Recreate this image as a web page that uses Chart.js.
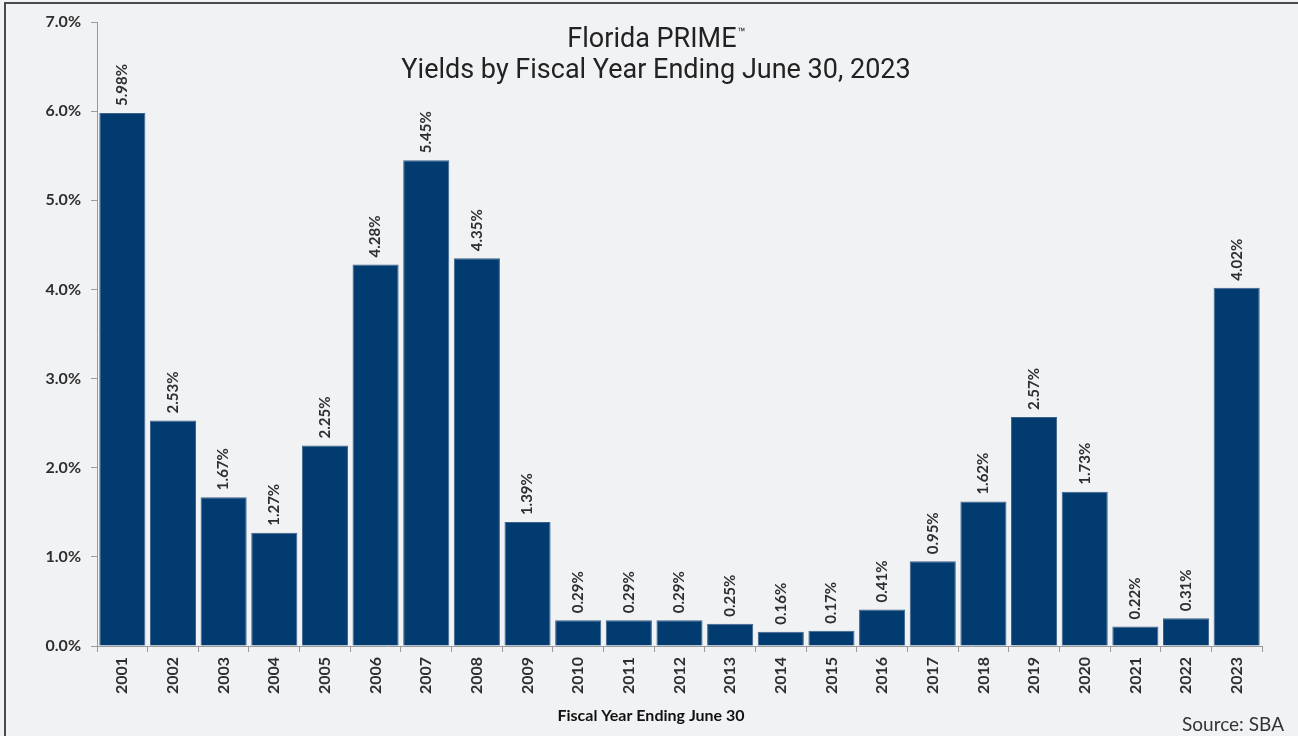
<!DOCTYPE html>
<html>
<head>
<meta charset="utf-8">
<script src="https://cdn.jsdelivr.net/npm/chart.js@4"></script>
<style>
  body { margin: 0; background: #f1f2f4; }
  canvas { display: block; }
</style>
</head>
<body>
<canvas id="yields" width="1298" height="736"></canvas>
<script>
// données
const years = ['2001', '2002', '2003', '2004', '2005', '2006', '2007', '2008', '2009', '2010', '2011', '2012',
    '2013', '2014', '2015', '2016', '2017', '2018', '2019', '2020', '2021', '2022', '2023'];
const yields = [5.98, 2.53, 1.67, 1.27, 2.25, 4.28, 5.45, 4.35, 1.39, 0.29, 0.29, 0.29,
    0.25, 0.16, 0.17, 0.41, 0.95, 1.62, 2.57, 1.73, 0.22, 0.31, 4.02];
const titleLines = ['Florida PRIME', 'Yields by Fiscal Year Ending June 30, 2023'];
const xTitle = 'Fiscal Year Ending June 30';
const sourceNote = 'Source: SBA';

const boldFont = 'Lato';

// fond, cadre, titres et étiquettes
const decor = {
    id: 'decor',
    beforeDraw(chart) {
        const c = chart.ctx;
        c.save();
        c.fillStyle = '#f1f2f4';
        c.fillRect(0, 0, chart.width, chart.height);
        c.strokeStyle = '#4a4a4a';
        c.lineWidth = 2;
        c.beginPath();
        c.moveTo(5, chart.height);
        c.lineTo(5, 3);
        c.lineTo(chart.width, 3);
        c.stroke();
        c.restore();
    },
    afterDatasetsDraw(chart) {
        const c = chart.ctx;
        const meta = chart.getDatasetMeta(0);
        c.save();
        c.fillStyle = '#2e2e2e';
        c.font = 'bold 15px ' + boldFont;
        c.textAlign = 'left';
        c.textBaseline = 'middle';
        meta.data.forEach((bar, i) => {
            c.save();
            c.translate(bar.x, bar.y - 7);
            c.rotate(-Math.PI / 2);
            c.fillText(yields[i].toFixed(2) + '%', 0, 0);
            c.restore();
        });

        // titre
        c.fillStyle = '#222222';
        c.textBaseline = 'alphabetic';
        c.font = '27px Roboto';
        const w1 = c.measureText(titleLines[0]).width;
        c.font = '13px Roboto';
        const wtm = c.measureText('\u2122').width;
        const x0 = 656 - (w1 + wtm) / 2;
        c.textAlign = 'left';
        c.font = '27px Roboto';
        c.fillText(titleLines[0], x0, 47);
        c.font = '13px Roboto';
        c.fillText('\u2122', x0 + w1 + 1, 37);
        c.textAlign = 'center';
        c.font = '27px Roboto';
        c.fillText(titleLines[1], 656, 78);

        // titre de l'axe X
        c.fillStyle = '#111111';
        c.font = 'bold 16px ' + boldFont;
        c.textBaseline = 'middle';
        c.fillText(xTitle, 651, 716);

        // source
        c.fillStyle = '#333333';
        c.font = '19px ' + boldFont;
        c.textAlign = 'right';
        c.fillText(sourceNote, 1284, 725);
        c.restore();
    }
};

document.addEventListener('DOMContentLoaded', () => {
    const ctx = document.getElementById('yields').getContext('2d');

    new Chart(ctx, {
        type: 'bar',
        data: {
            labels: years,
            datasets: [{
                label: 'Yield',
                data: yields,
                backgroundColor: '#023b6f',
                borderColor: '#3d6289',
                borderWidth: 1,
                barPercentage: 0.91,
                categoryPercentage: 1.0,
            }]
        },
        options: {
            responsive: false,
            animation: false,
            layout: { padding: { left: 0, top: 22, right: 36, bottom: 0 } },
            plugins: {
                legend: { display: false },
                tooltip: { enabled: false },
                title: { display: false },
            },
            scales: {
                x: {
                    afterFit(scale) { scale.height = 90; },
                    grid: { drawOnChartArea: false, drawTicks: true, tickLength: 6, color: '#9a9a9a' },
                    border: { display: true, color: '#9a9a9a' },
                    ticks: {
                        minRotation: 90,
                        maxRotation: 90,
                        padding: 5,
                        color: '#2e2e2e',
                        font: { family: boldFont, size: 16, weight: 'bold' },
                    },
                },
                y: {
                    min: 0,
                    max: 7,
                    afterFit(scale) { scale.width = 97; },
                    grid: { drawOnChartArea: false, drawTicks: true, tickLength: 6, color: '#9a9a9a' },
                    border: { display: true, color: '#9a9a9a' },
                    ticks: {
                        stepSize: 1,
                        padding: 10,
                        color: '#2e2e2e',
                        font: { family: boldFont, size: 16, weight: 'bold' },
                        callback: (v) => v.toFixed(1) + '%',
                    },
                },
            },
        },
        plugins: [decor],
    });
});
</script>
</body>
</html>
